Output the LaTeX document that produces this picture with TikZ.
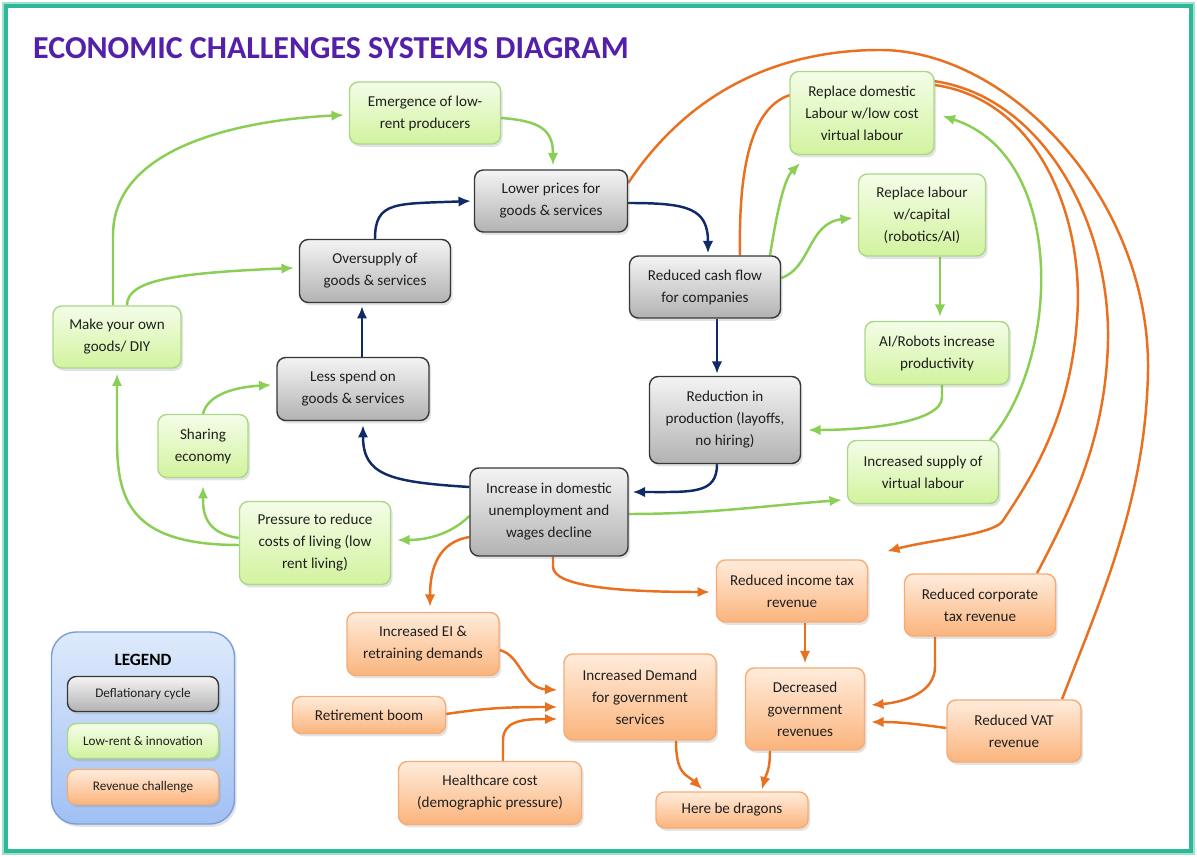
\documentclass[tikz,border=0pt]{standalone}
\usepackage{fontspec}
\setmainfont{Carlito}
\usetikzlibrary{arrows.meta,shadows,calc,backgrounds}
\definecolor{dnavy}{RGB}{16,42,104}
\definecolor{lgreen}{RGB}{138,206,84}
\definecolor{lorange}{RGB}{232,112,30}
\definecolor{ttlpurple}{RGB}{84,32,170}
\definecolor{frameteal}{RGB}{46,184,149}
\definecolor{greytop}{RGB}{244,244,244}
\definecolor{greybot}{RGB}{178,178,178}
\definecolor{greyline}{RGB}{55,55,55}
\definecolor{greentop}{RGB}{244,253,232}
\definecolor{greenbot}{RGB}{210,243,158}
\definecolor{greenline}{RGB}{170,216,136}
\definecolor{orngtop}{RGB}{255,236,220}
\definecolor{orngbot}{RGB}{251,180,124}
\definecolor{orngline}{RGB}{246,172,116}
\definecolor{legtop}{RGB}{222,234,251}
\definecolor{legbot}{RGB}{160,192,244}
\definecolor{legline}{RGB}{122,157,214}
\begin{document}
\begin{tikzpicture}[x=0.02cm,y=-0.02cm,
    box/.style={rounded corners=5pt,align=center,text=black!88,line width=0.8pt,
      font=\fontsize{8.6}{12.5}\selectfont,
      drop shadow={shadow xshift=1.2pt,shadow yshift=-1.6pt,opacity=0.22}},
    sz/.style 2 args={minimum width=#1*0.02cm,minimum height=#2*0.02cm,inner sep=1pt},
    grey/.style={box,draw=greyline,top color=greytop,bottom color=greybot},
    green/.style={box,draw=greenline,top color=greentop,bottom color=greenbot},
    orng/.style={box,draw=orngline,top color=orngtop,bottom color=orngbot},
    legitem/.style={font=\fontsize{7.5}{9}\selectfont,sz={151}{35}},
    bl/.style={draw=dnavy,line width=1.4pt,-{Latex[length=7pt,width=6pt]}},
    gr/.style={draw=lgreen,line width=1.4pt,-{Latex[length=7pt,width=6pt]}},
    og/.style={draw=lorange,line width=1.4pt,-{Latex[length=7pt,width=6pt]}},
    ogl/.style={draw=lorange,line width=1.4pt}]
\useasboundingbox (0,0) rectangle (1197,857);
\begin{scope}[on background layer]
\fill[white] (0,0) rectangle (1197,857);
\end{scope}
\draw[frameteal!45,line width=1.2pt] (3,3) rectangle (1194,854);
\draw[frameteal,line width=2.2pt] (6,6) rectangle (1191,851);
\node[anchor=west,text=ttlpurple,font=\fontsize{18.2}{20}\selectfont\bfseries] (title) at (27,48) {ECONOMIC CHALLENGES SYSTEMS DIAGRAM};

\node[grey,sz={153}{62}] (lower) at (551,201) {Lower prices for\\goods \& services};
\node[grey,sz={151}{63}] (oversup) at (375,271) {Oversupply of\\goods \& services};
\node[grey,sz={151}{62}] (cash) at (705,287) {Reduced cash flow\\for companies};
\node[grey,sz={151}{87}] (prod) at (725,420) {Reduction in\\production (layoffs,\\no hiring)};
\node[grey,sz={152}{63}] (less) at (353,389) {Less spend on\\goods \& services};
\node[grey,sz={158}{88}] (unemp) at (549,512) {Increase in domestic\\unemployment and\\wages decline};

\node[green,sz={151}{62}] (emerg) at (425,113) {Emergence of low-\\rent producers};
\node[green,sz={128}{62}] (diy) at (117,337) {Make your own\\goods/ DIY};
\node[green,sz={90}{63}] (share) at (203,446) {Sharing\\economy};
\node[green,sz={151}{83}] (press) at (315,543) {Pressure to reduce\\costs of living (low\\rent living)};
\node[green,sz={144}{83}] (repdom) at (862,113) {Replace domestic\\Labour w/low cost\\virtual labour};
\node[green,sz={127}{82}] (repcap) at (922,215) {Replace labour\\w/capital\\(robotics/AI)};
\node[green,sz={144}{63}] (airob) at (937,353) {AI/Robots increase\\productivity};
\node[green,sz={151}{63}] (virt) at (923,472) {Increased supply of\\virtual labour};

\node[orng,sz={151}{62}] (inctax) at (792,591) {Reduced income tax\\revenue};
\node[orng,sz={151}{62}] (corptax) at (980,605) {Reduced corporate\\tax revenue};
\node[orng,sz={152}{63}] (ei) at (423,644) {Increased EI \&\\retraining demands};
\node[orng,sz={152}{86}] (demand) at (640,697) {Increased Demand\\for government\\services};
\node[orng,sz={153}{37}] (retire) at (369,715) {Retirement boom};
\node[orng,sz={183}{63}] (health) at (490,793) {Healthcare cost\\(demographic pressure)};
\node[orng,sz={119}{82}] (govrev) at (805,709) {Decreased\\government\\revenues};
\node[orng,sz={134}{62}] (vat) at (1014,731) {Reduced VAT\\revenue};
\node[orng,sz={152}{36}] (dragons) at (732,810) {Here be dragons};

\node[box,rounded corners=14pt,draw=legline,top color=legtop,bottom color=legbot,sz={183}{192}] (leg) at (143,728) {};
\node[font=\fontsize{9.8}{11}\selectfont\bfseries] (legt) at (143,660) {LEGEND};
\node[grey,legitem] (leg1) at (143,694) {Deflationary cycle};
\node[green,legitem] (leg2) at (143,741) {Low-rent \& innovation};
\node[orng,legitem] (leg3) at (143,787) {Revenue challenge};

\begin{scope}[on background layer]
\draw[bl] (oversup.north) .. controls +(0,-38) and +(-75,3) .. ($(lower.west)+(-3,0)$);
\draw[bl] ($(lower.east)+(0,2)$) .. controls +(60,0) and +(0,-45) .. ($(cash.north)+(3,-2)$);
\draw[bl] ($(cash.south)+(12,0)$) -- ($(prod.north)+(-8,-2)$);
\draw[bl] ($(prod.south)+(-8,0)$) .. controls +(0,30) and +(60,0) .. ($(unemp.east)+(4,-20)$);
\draw[bl] ($(unemp.west)+(0,-25)$) .. controls +(-80,-5) and +(0,50) .. ($(less.south)+(10,4)$);
\draw[bl] ($(less.north)+(9,0)$) -- ($(oversup.south)+(-13,3)$);

\draw[gr] ($(emerg.east)+(0,5)$) .. controls +(40,3) and +(0,-35) .. ($(lower.north)+(2,-4)$);
\draw[gr] ($(diy.north)+(-4,0)$) -- ++(0,-70) .. controls +(0,-90) and +(-100,5) .. ($(emerg.west)+(-5,2)$);
\draw[gr] ($(diy.north)+(10,0)$) .. controls +(0,-25) and +(-120,5) .. ($(oversup.west)+(-5,-3)$);
\draw[gr] ($(press.west)+(0,2)$) .. controls +(-110,0) and +(0,60) .. ($(diy.south)+(0,70)$) -- ($(diy.south)+(0,5)$);
\draw[gr] ($(press.west)+(0,-5)$) .. controls +(-35,-5) and +(0,25) .. ($(share.south)+(0,8)$);
\draw[gr] (share.north) .. controls +(5,-20) and +(-35,2) .. ($(less.west)+(-5,-4)$);
\draw[gr] ($(unemp.west)+(0,4)$) .. controls +(-15,15) and +(35,0) .. ($(press.east)+(6,-3)$);
\draw[gr] ($(unemp.east)+(0,2)$) .. controls +(80,0) and +(-80,6) .. ($(virt.west)+(-5,28)$);
\draw[gr] ($(cash.east)+(0,-9)$) .. controls +(30,-10) and +(-45,5) .. ($(repcap.west)+(-5,3)$);
\draw[gr] ($(cash.north)+(65,0)$) .. controls +(8,-50) and +(-15,15) .. ($(repdom.south)+(-62,8)$);
\draw[gr] ($(repcap.south)+(18,0)$) -- ($(airob.north)+(3,-4)$);
\draw[gr] ($(airob.south)+(5,0)$) -- ++(0,12) .. controls +(0,25) and +(60,0) .. ($(prod.east)+(7,10)$);
\draw[gr] ($(virt.north)+(67,0)$) .. controls +(70,-80) and +(125,40) .. ($(repdom.east)+(8,3)$);

\draw[og] ($(unemp.west)+(0,25)$) .. controls +(-30,5) and +(0,-40) .. ($(ei.north)+(7,-5)$);
\draw[og] ($(unemp.south)+(4,0)$) -- ++(0,10) .. controls +(0,20) and +(-90,0) .. ($(inctax.west)+(-6,1)$);
\draw[og] ($(ei.east)+(0,6)$) .. controls +(22,6) and +(-35,-2) .. ($(demand.west)+(-6,-7)$);
\draw[og] ($(retire.east)+(0,-1)$) .. controls +(40,-6) and +(-50,0) .. ($(demand.west)+(-6,10)$);
\draw[og] ($(health.north)+(13,0)$) -- ++(0,-20) .. controls +(0,-20) and +(-35,0) .. ($(demand.west)+(-6,22)$);
\draw[og] ($(demand.south)+(36,0)$) .. controls +(0,35) and +(-15,-15) .. ($(dragons.north)+(-30,-2)$);
\draw[og] ($(govrev.south)+(-35,0)$) .. controls +(0,20) and +(4,-15) .. ($(dragons.north)+(30,-2)$);
\draw[og] ($(inctax.south)+(13,0)$) -- ($(govrev.north)+(0,-4)$);
\draw[og] ($(corptax.south)+(-45,0)$) -- ++(0,30) .. controls +(0,25) and +(35,-3) .. ($(govrev.east)+(6,-4)$);
\draw[og] ($(vat.west)+(0,-3)$) .. controls +(-30,-4) and +(30,0) .. ($(govrev.east)+(6,13)$);
\draw[ogl] ($(lower.east)+(0,-18)$) .. controls (690,90) and (780,50) .. (880,50)
  .. controls (1010,50) and (1150,200) .. (1148,370)
  .. controls (1146,500) and (1100,600) .. ($(vat.north)+(48,0)$);
\draw[ogl] ($(cash.north)+(35,0)$) .. controls +(-2,-110) and +(-40,5) .. ($(repdom.west)+(10,-20)$)
  -- ($(repdom.east)+(-10,-33)$) .. controls (1040,90) and (1110,220) .. (1108,340)
  .. controls (1106,440) and (1070,510) .. ($(corptax.north)+(57,0)$);
\draw[og] ($(repdom.east)+(0,-28)$) .. controls (1040,100) and (1085,220) .. (1077,320)
  .. controls (1070,420) and (1030,480) .. (1002,522)
  .. controls (990,535) and (930,540) .. ($(inctax.north east)+(19,-8)$);
\end{scope}
\end{tikzpicture}
\end{document}
